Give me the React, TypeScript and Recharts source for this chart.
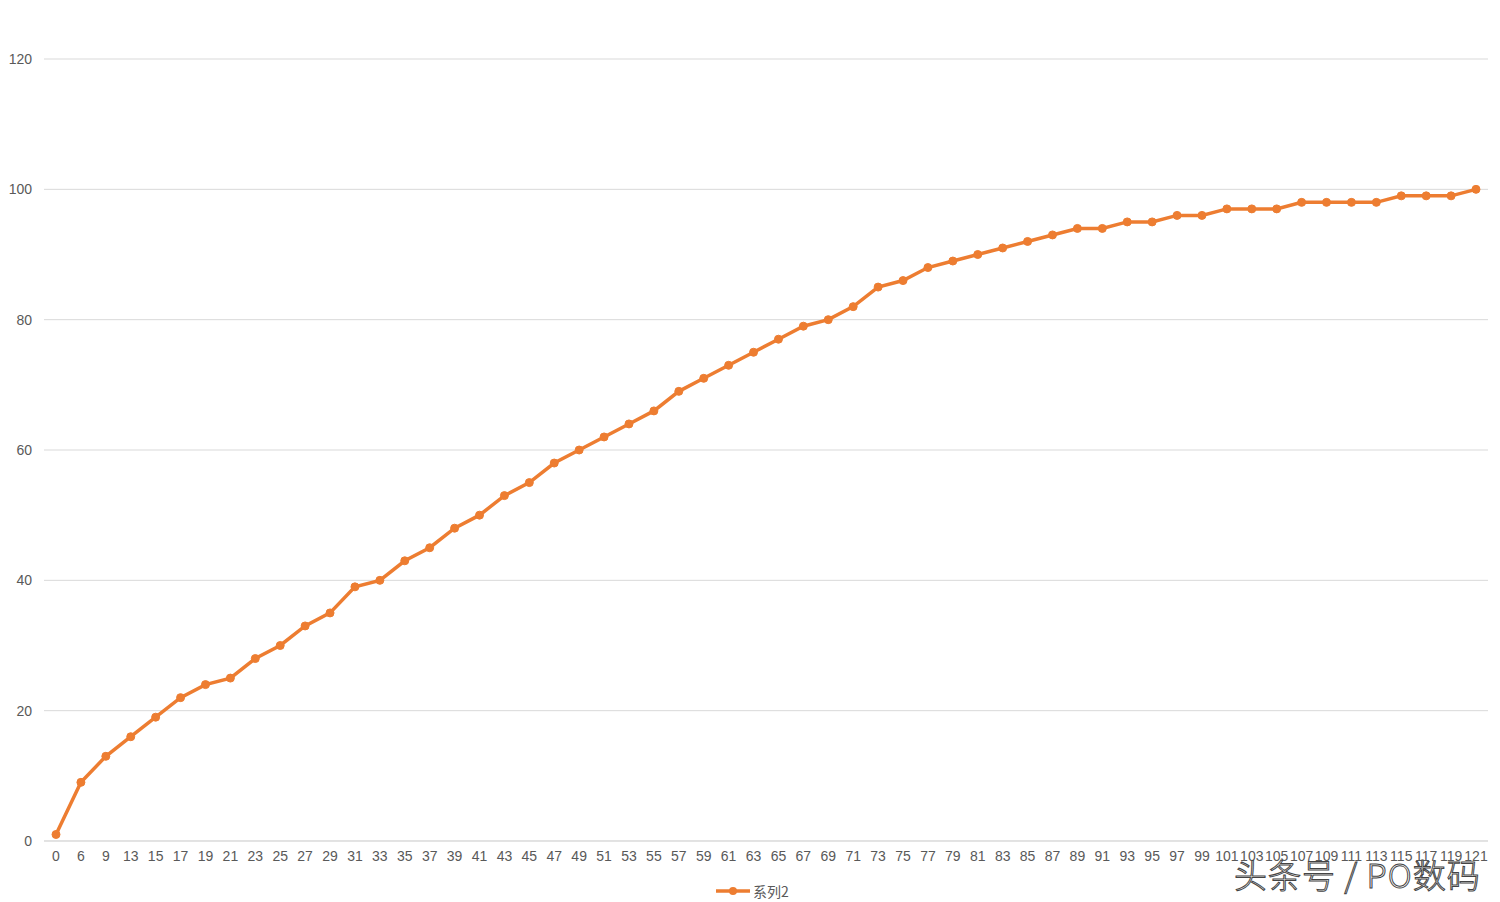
import React from 'react';
import { LineChart, Line, XAxis, YAxis, CartesianGrid } from 'recharts';

const categories = [
  '0', '6', '9', '13', '15', '17', '19', '21', '23', '25', '27', '29', '31', '33', '35',
  '37', '39', '41', '43', '45', '47', '49', '51', '53', '55', '57', '59', '61', '63', '65',
  '67', '69', '71', '73', '75', '77', '79', '81', '83', '85', '87', '89', '91', '93', '95',
  '97', '99', '101', '103', '105', '107', '109', '111', '113', '115', '117', '119', '121',
];

const series2 = [
  1, 9, 13, 16, 19, 22, 24, 25, 28, 30, 33, 35, 39, 40, 43,
  45, 48, 50, 53, 55, 58, 60, 62, 64, 66, 69, 71, 73, 75, 77,
  79, 80, 82, 85, 86, 88, 89, 90, 91, 92, 93, 94, 94, 95, 95,
  96, 96, 97, 97, 97, 98, 98, 98, 98, 99, 99, 99, 100,
];

const yTicks = [0, 20, 40, 60, 80, 100, 120];

const ORANGE = '#ED7D31';
const FONT = '"Liberation Sans", "Noto Sans CJK SC", sans-serif';
const CJK = '"Noto Sans CJK SC", sans-serif';

const data = categories.map((c, i) => ({ name: c, v: series2[i] }));

function LegendItem() {
  return (
    <div
      style={{
        position: 'absolute',
        left: 714,
        top: 881,
        display: 'flex',
        alignItems: 'center',
        fontFamily: CJK,
        fontSize: 14,
        color: '#595959',
      }}
    >
      <svg width={38} height={12}>
        <line x1={2} y1={6} x2={36} y2={6} stroke={ORANGE} strokeWidth={3.5} />
        <circle cx={19} cy={6} r={4} fill={ORANGE} />
      </svg>
      <span style={{ marginLeft: 1 }}>系列2</span>
    </div>
  );
}

export default function App() {
  return (
    <div style={{ position: 'absolute', left: 0, top: 0, width: 1500, height: 902, background: '#fff' }}>
      <LineChart
        width={1500}
        height={902}
        data={data}
        margin={{ top: 59, right: 12, bottom: 31, left: 0 }}
      >
        <CartesianGrid horizontal vertical={false} stroke="#d9d9d9" />
        <XAxis
          dataKey="name"
          interval={0}
          padding={{ left: 12, right: 12 }}
          axisLine={{ stroke: '#d9d9d9' }}
          tickLine={false}
          tickMargin={4}
          tick={{ fill: '#595959', fontSize: 14, fontFamily: FONT }}
        />
        <YAxis
          width={44}
          domain={[0, 120]}
          ticks={yTicks}
          axisLine={false}
          tickLine={false}
          tickMargin={6}
          tick={{ fill: '#595959', fontSize: 14, fontFamily: FONT }}
        />
        <Line
          type="linear"
          dataKey="v"
          stroke={ORANGE}
          strokeWidth={3.5}
          dot={{ r: 4, fill: ORANGE, stroke: ORANGE, strokeWidth: 1 }}
          isAnimationActive={false}
        />
      </LineChart>
      <LegendItem />
      <div
        style={{
          position: 'absolute',
          left: 1234,
          top: 850,
          fontFamily: CJK,
          fontSize: 33,
          fontWeight: 300,
          letterSpacing: 1,
          color: '#ffffff',
          WebkitTextStroke: '1px #444',
          whiteSpace: 'nowrap',
        }}
      >
        头条号 / PO数码
      </div>
    </div>
  );
}
